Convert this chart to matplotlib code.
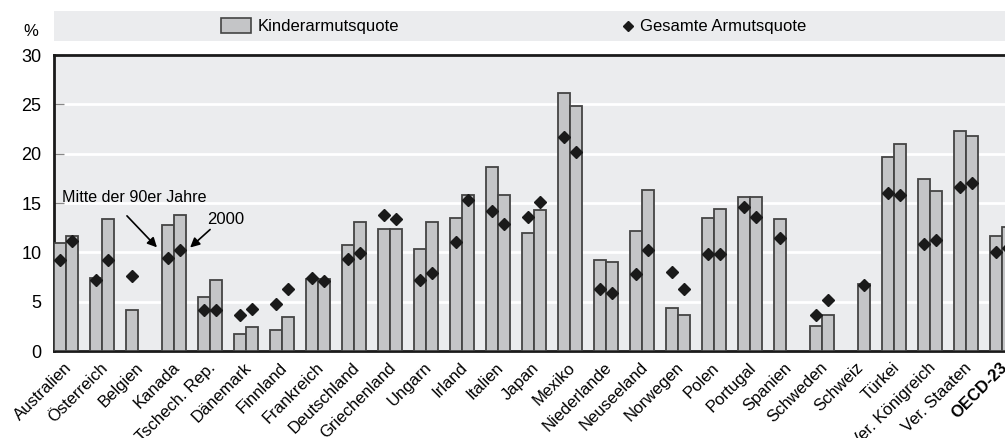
import numpy as np
import matplotlib
matplotlib.use("Agg")
import matplotlib.pyplot as plt
from matplotlib.patches import Rectangle
from matplotlib.lines import Line2D

plt.rcParams['font.family'] = ['Liberation Sans Narrow', 'Liberation Sans', 'DejaVu Sans']

nan = np.nan
countries = ["Australien", "Österreich", "Belgien", "Kanada", "Tschech. Rep.", "Dänemark",
             "Finnland", "Frankreich", "Deutschland", "Griechenland", "Ungarn", "Irland",
             "Italien", "Japan", "Mexiko", "Niederlande", "Neuseeland", "Norwegen", "Polen",
             "Portugal", "Spanien", "Schweden", "Schweiz", "Türkei", "Ver. Königreich",
             "Ver. Staaten", "OECD-23"]
child_mid90 = [10.9, 7.4, 4.15, 12.8, 5.5, 1.7, 2.1, 7.3, 10.7, 12.4, 10.3, 13.5, 18.6, 12.0,
               26.1, 9.2, 12.2, 4.4, 13.5, 15.6, 13.35, 2.5, nan, 19.7, 17.4, 22.3, 11.7]
child_2000 = [11.65, 13.35, nan, 13.75, 7.2, 2.45, 3.45, 7.3, 13.1, 12.4, 13.1, 15.8, 15.8, 14.3,
              24.8, 9.0, 16.3, 3.6, 14.4, 15.6, nan, 3.6, 6.8, 21.0, 16.2, 21.8, 12.6]
total_mid90 = [9.2, 7.2, 7.6, 9.4, 4.2, 3.65, 4.75, 7.4, 9.3, 13.8, 7.2, 11.0, 14.15, 13.6,
               21.65, 6.3, 7.8, 8.0, 9.85, 14.55, 11.5, 3.65, nan, 16.0, 10.8, 16.6, 10.0]
total_2000 = [11.1, 9.2, nan, 10.2, 4.2, 4.25, 6.3, 7.1, 9.9, 13.4, 7.95, 15.3, 12.85, 15.1,
              20.15, 5.9, 10.2, 6.3, 9.85, 13.6, nan, 5.15, 6.65, 15.8, 11.3, 17.0, 10.4]
yticks = [0, 5, 10, 15, 20, 25, 30]

W, H = 1005, 438
fig = plt.figure(figsize=(W / 100, H / 100), dpi=100)
fig.patch.set_facecolor('white')

ax_l, ax_r, ax_t, ax_b = 54, 1005, 55, 351
ax = fig.add_axes([ax_l / W, 1 - ax_b / H, (ax_r - ax_l) / W, (ax_b - ax_t) / H])
bg = '#EBECEE'
ax.set_facecolor(bg)

x = np.arange(len(countries))
bw = 1 / 3
bar_fc = '#C4C5C7'
bar_ec = '#444444'
ax.bar(x - bw / 2, child_mid90, width=bw, color=bar_fc, edgecolor=bar_ec, linewidth=1.3, zorder=3)
ax.bar(x + bw / 2, child_2000, width=bw, color=bar_fc, edgecolor=bar_ec, linewidth=1.3, zorder=3)
ax.plot(x - bw / 2, total_mid90, 'D', color='#1a1a1a', markersize=6.3, linestyle='none', zorder=4)
ax.plot(x + bw / 2, total_2000, 'D', color='#1a1a1a', markersize=6.3, linestyle='none', zorder=4)

ax.set_xlim(-1 / 3, -1 / 3 + (ax_r - ax_l) / 36)
ax.set_ylim(0, 30)
ax.set_yticks(yticks)
ax.set_yticklabels([str(v) for v in yticks], fontsize=13)
ax.yaxis.grid(True, color='white', linewidth=2, zorder=1)
ax.set_axisbelow(True)
ax.tick_params(axis='y', direction='in', length=7, width=1, color='#888888', pad=9)
ax.tick_params(axis='x', length=0, pad=4)
ax.set_xticks(x)
ax.set_xticklabels([])
for i, name in enumerate(countries):
    ax.text(i - 0.06, -0.9, name, rotation=45, ha='right', va='top', rotation_mode='anchor',
            fontsize=12, fontweight='bold' if name == 'OECD-23' else 'normal',
            transform=ax.transData, clip_on=False)

for s in ['left', 'bottom', 'top']:
    ax.spines[s].set_color('#1a1a1a')
    ax.spines[s].set_linewidth(2)
ax.spines['right'].set_visible(False)

# annotations
ax.annotate('', xy=(2.58, 10.3), xytext=(1.64, 13.9),
            arrowprops=dict(arrowstyle='-|>', color='black', lw=1.2, mutation_scale=14), zorder=5)
ax.annotate('', xy=(3.39, 10.3), xytext=(4.06, 12.5),
            arrowprops=dict(arrowstyle='-|>', color='black', lw=1.2, mutation_scale=14), zorder=5)
ax.text(-0.12, 15.6, 'Mitte der 90er Jahre', fontsize=11.6, ha='left', va='center', zorder=5)
ax.text(3.92, 13.35, '2000', fontsize=12, ha='left', va='center', zorder=5)

# "%" label
fig.text(31 / W, 1 - 32 / H, '%', fontsize=12, ha='center', va='center')

# legend band
fig.patches.append(Rectangle((54 / W, 1 - 41 / H), (1005 - 54) / W, 30 / H,
                             transform=fig.transFigure, facecolor=bg, edgecolor='none'))
fig.patches.append(Rectangle((221 / W, 1 - 33 / H), 30 / W, 15 / H, transform=fig.transFigure,
                             facecolor=bar_fc, edgecolor=bar_ec, linewidth=1.2))
fig.text(258 / W, 1 - 26 / H, 'Kinderarmutsquote', fontsize=12, ha='left', va='center')
fig.lines.append(Line2D([628 / W], [1 - 25.5 / H], marker='D', markersize=5.5, color='#1a1a1a',
                        transform=fig.transFigure))
fig.text(640 / W, 1 - 26 / H, 'Gesamte Armutsquote', fontsize=12, ha='left', va='center')

fig.savefig('out.png', dpi=100)
